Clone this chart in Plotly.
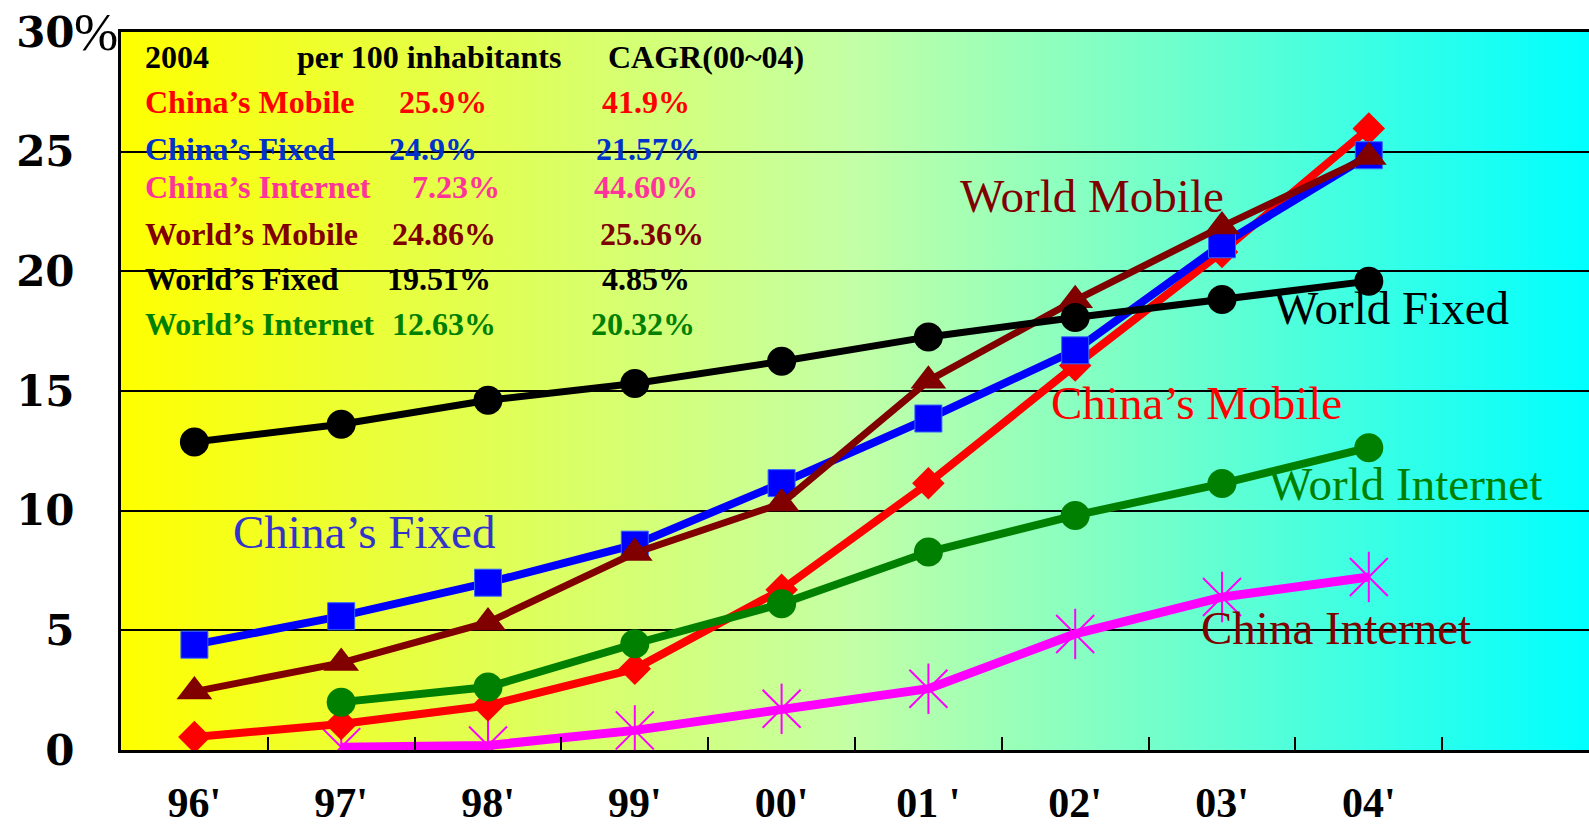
import base64
import plotly.graph_objects as go

# ---------------- data ----------------
years = ["96'", "97'", "98'", "99'", "00'", "01 '", "02'", "03'", "04'"]
x_idx = list(range(len(years)))

world_fixed = [12.87, 13.61, 14.61, 15.31, 16.24, 17.26, 18.07, 18.82, 19.59]
china_fixed = [4.40, 5.59, 6.99, 8.58, 11.15, 13.85, 16.70, 21.13, 24.85]
world_mobile = [2.44, 3.64, 5.33, 8.23, 10.30, 15.43, 18.79, 21.87, 24.78]
china_mobile = [0.54, 1.09, 1.86, 3.39, 6.70, 11.15, 16.07, 20.81, 25.97]
world_internet = [None, 2.00, 2.63, 4.44, 6.11, 8.27, 9.80, 11.13, 12.63]
china_internet = [None, 0.12, 0.19, 0.82, 1.72, 2.56, 4.85, 6.39, 7.23]

y_tickvals = [0, 5, 10, 15, 20, 25, 30]
y_ticktext = ["0", "5", "10", "15", "20", "25", "30"]

table_header = ["2004", "per 100 inhabitants", "CAGR(00~04)"]
table_names = ["China’s Mobile", "China’s Fixed", "China’s Internet",
               "World’s Mobile", "World’s Fixed", "World’s Internet"]
table_per100 = ["25.9%", "24.9%", "7.23%", "24.86%", "19.51%", "12.63%"]
table_cagr = ["41.9%", "21.57%", "44.60%", "25.36%", "4.85%", "20.32%"]
table_colors = ["#FF0000", "#0033CC", "#FF3399", "#800000", "#000000", "#008000"]

series_labels = ["World Mobile", "World Fixed", "China’s Mobile",
                 "World Internet", "China Internet", "China’s Fixed"]
series_label_colors = ["#800000", "#000000", "#FF0000", "#008000", "#800000", "#3333CC"]

# ---------------- layout geometry (pixels) ----------------
W, H = 1589, 831
L, R, T, B = 121, 0, 32, 81
PW, PH = W - L - R, H - T - B


def paper(xp, yp):
    return (xp - L) / PW, (H - B - yp) / PH


fig = go.Figure()

# draw order: bottom -> top
line_specs = [
    (china_internet, "#FF00FF", 9, dict(symbol="x-thin-open", size=38, color="#FF00FF",
                                        line=dict(width=2, color="#FF00FF"))),
    (china_mobile, "#FF0000", 8, dict(symbol="diamond", size=25, color="#FF0000")),
    (world_internet, "#008000", 8, dict(symbol="circle", size=29, color="#008000")),
    (china_fixed, "#0000FF", 8, dict(symbol="square", size=27, color="#0000FF",
                                     line=dict(width=1, color="#3366FF"))),
    (world_mobile, "#800000", 7, dict(symbol="triangle-up", size=31, color="#800000")),
    (world_fixed, "#000000", 7, dict(symbol="circle", size=29, color="#000000")),
]
for ys, col, lw, mk in line_specs:
    fig.add_trace(go.Scatter(x=x_idx, y=ys, mode="lines+markers",
                             line=dict(color=col, width=lw), marker=mk,
                             hoverinfo="skip"))
    if ys is china_internet:
        fig.add_trace(go.Scatter(x=x_idx, y=ys, mode="markers",
                                 marker=dict(symbol="line-ns-open", size=36, color="#FF00FF",
                                             line=dict(width=2, color="#FF00FF")),
                                 hoverinfo="skip"))

annotations = []
# series labels inside plot
label_pos = [(958, 196), (1272, 308), (1049, 403), (1266, 484), (1199, 628), (231, 532)]
for txt, col, (xp, yp) in zip(series_labels, series_label_colors, label_pos):
    xa, ya = paper(xp, yp)
    annotations.append(dict(text=txt, x=xa, y=ya, xref="paper", yref="paper",
                            xanchor="left", yanchor="middle", showarrow=False,
                            font=dict(family="Liberation Serif", size=47, color=col)))

# table
tfont = "Liberation Serif"
tsize = 32
header_x = [143, 295, 606]
header_y = 57
for txt, xp in zip(table_header, header_x):
    xa, ya = paper(xp, header_y)
    annotations.append(dict(text=txt, x=xa, y=ya, xref="paper", yref="paper",
                            xanchor="left", yanchor="middle", showarrow=False,
                            font=dict(family=tfont, size=tsize, color="#000000", weight="bold")))
row_y = [102.5, 149, 187.5, 233.5, 279, 324.5]
per_x = [397, 387, 410, 390, 385, 390]
cagr_x = [600, 594, 592, 598, 600, 589]
for i in range(len(table_names)):
    for txt, xp in ((table_names[i], 143), (table_per100[i], per_x[i]), (table_cagr[i], cagr_x[i])):
        xa, ya = paper(xp, row_y[i])
        annotations.append(dict(text=txt, x=xa, y=ya, xref="paper", yref="paper",
                                xanchor="left", yanchor="middle", showarrow=False,
                                font=dict(family=tfont, size=tsize, color=table_colors[i],
                                          weight="bold")))

# percent sign next to 30
xa, ya = paper(72, 32)
annotations.append(dict(text="%", x=xa, y=ya, xref="paper", yref="paper",
                        xanchor="left", yanchor="middle", showarrow=False,
                        font=dict(family="Liberation Serif", size=53, color="#000000")))

# gradient background (SVG)
svg = ('<svg xmlns="http://www.w3.org/2000/svg" width="1468" height="718" '
       'preserveAspectRatio="none"><defs><linearGradient id="g" x1="0" y1="0" x2="1" y2="0">'
       '<stop offset="0" stop-color="#FFFF00"/>'
       '<stop offset="0.5" stop-color="#C3FFA6"/>'
       '<stop offset="1" stop-color="#00FFFF"/>'
       '</linearGradient></defs><rect width="1468" height="718" fill="url(#g)"/></svg>')
src = "data:image/svg+xml;base64," + base64.b64encode(svg.encode()).decode()

fig.update_layout(
    width=W, height=H,
    margin=dict(l=L, r=R, t=T, b=B, pad=0, autoexpand=False),
    paper_bgcolor="white",
    plot_bgcolor="rgba(0,0,0,0)",
    showlegend=False,
    annotations=annotations,
    images=[dict(source=src, xref="paper", yref="paper", x=0, y=1, sizex=1, sizey=1,
                 sizing="stretch", xanchor="left", yanchor="top", layer="below")],
    xaxis=dict(range=[-0.5, 9.5], tickmode="array", tickvals=x_idx, ticktext=years,
               ticks="", showgrid=False, zeroline=False, automargin=False,
               showline=True, linecolor="black", linewidth=3, mirror=True,
               tickfont=dict(family="Liberation Serif", size=42, color="black", weight="bold"),
               ticklabelstandoff=14,
               minor=dict(tickmode="array", tickvals=[i + 0.5 for i in range(9)],
                          ticks="inside", ticklen=13, tickwidth=2, tickcolor="black",
                          showgrid=False),
               fixedrange=True),
    yaxis=dict(range=[0, 30], tickmode="array", tickvals=y_tickvals, ticktext=y_ticktext,
               ticks="", showgrid=True, gridcolor="black", gridwidth=2, zeroline=False,
               automargin=False,
               showline=True, linecolor="black", linewidth=3, mirror=False,
               tickfont=dict(family="DejaVu Serif", size=42, color="black", weight="bold"),
               ticklabelstandoff=35, fixedrange=True),
)

fig.write_html("out.html", config={"displayModeBar": False})
